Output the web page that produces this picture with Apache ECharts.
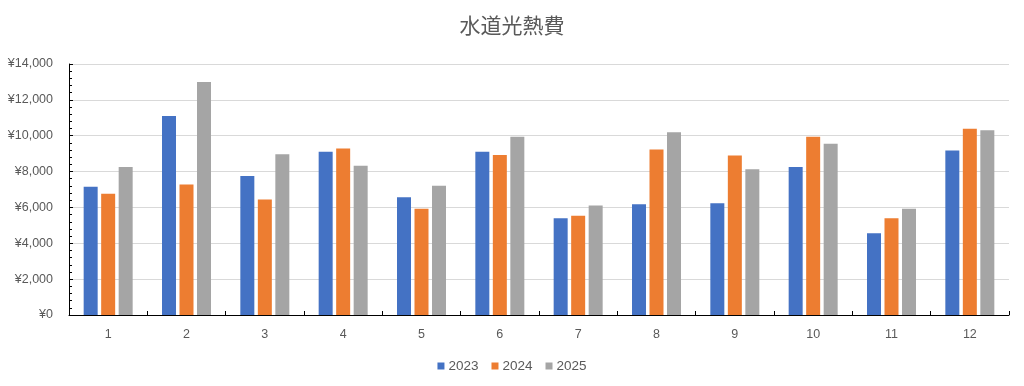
<!DOCTYPE html>
<html>
<head>
<meta charset="utf-8">
<script src="https://cdn.jsdelivr.net/npm/echarts@6/dist/echarts.min.js"></script>
<style>html,body{margin:0;padding:0;background:#fff}#c{width:1024px;height:386px}</style>
</head>
<body>
<div id="c"></div>
<script>
const title = '水道光熱費';
const months = ['1','2','3','4','5','6','7','8','9','10','11','12'];
const seriesNames = ['2023','2024','2025'];
const v2023 = [7150, 11100, 7750, 9100, 6570, 9100, 5400, 6180, 6230, 8250, 4560, 9180];
const v2024 = [6760, 7280, 6440, 9290, 5920, 8920, 5530, 9230, 8900, 9940, 5400, 10390];
const v2025 = [8250, 12990, 8970, 8320, 7210, 9940, 6110, 10200, 8130, 9550, 5920, 10310];
const colors = ['#4472C4', '#ED7D31', '#A5A5A5'];

const txt = '#595959';
const font = 'Liberation Sans';
const chart = echarts.init(document.getElementById('c'));
const values = [v2023, v2024, v2025];
chart.setOption({
  animation: false,
  title: {
    text: title, left: 'center', top: 10,
    textStyle: { fontFamily: 'Noto Sans CJK JP', fontSize: 21, fontWeight: 'normal', color: txt }
  },
  legend: {
    bottom: 8, left: 'center', itemWidth: 7, itemHeight: 7, itemGap: 13,
    icon: 'rect',
    textStyle: { fontFamily: font, fontSize: 13.5, color: txt, padding: [0, 0, 0, -1] },
    data: seriesNames
  },
  grid: { left: 69, right: 15, top: 64, bottom: 71 },
  xAxis: [{
    type: 'category', data: months,
    axisLine: { lineStyle: { color: '#000', width: 1 } },
    axisTick: { show: true, inside: true, length: 4, alignWithLabel: false, lineStyle: { color: '#000' } },
    axisLabel: { fontFamily: font, fontSize: 12.5, color: txt, margin: 13 }
  }, {
    type: 'category', data: months, position: 'bottom',
    axisLine: { show: false },
    axisTick: { show: true, inside: true, length: 4, alignWithLabel: true, lineStyle: { color: '#000' } },
    axisLabel: { show: false }
  }],
  yAxis: {
    type: 'value', min: 0, max: 14000, interval: 2000,
    axisLine: { show: true, lineStyle: { color: '#000', width: 1 } },
    axisTick: { show: true, inside: true, length: 4, lineStyle: { color: '#000' } },
    minorTick: { show: true, splitNumber: 5, length: 3, lineStyle: { color: '#000' } },
    splitLine: { lineStyle: { color: '#D9D9D9', width: 1 } },
    axisLabel: {
      fontFamily: font, fontSize: 12.5, color: txt, margin: 16,
      formatter: v => '¥' + v.toLocaleString('en-US')
    }
  },
  series: seriesNames.map((n, i) => ({
    name: n, type: 'bar', xAxisIndex: 0, data: values[i],
    barWidth: 14, barGap: '25%',
    itemStyle: { color: colors[i] }
  }))
});
</script>
</body>
</html>
